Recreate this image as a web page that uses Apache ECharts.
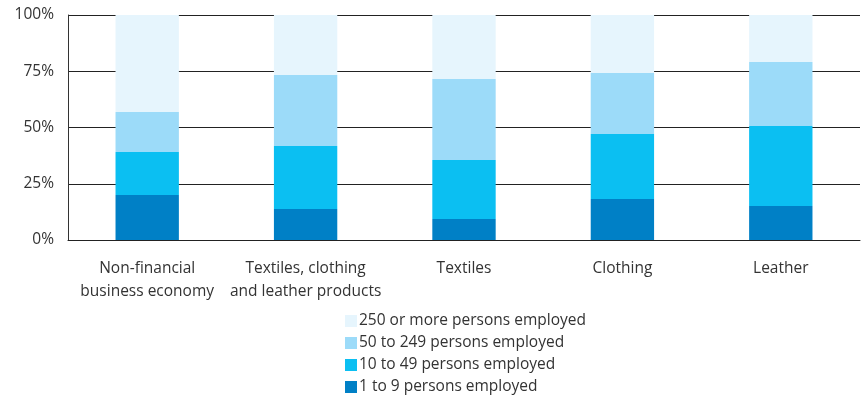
<!DOCTYPE html>
<html>
<head>
<meta charset="utf-8">
<script src="https://cdn.jsdelivr.net/npm/echarts@6/dist/echarts.min.js"></script>
<style>html,body{margin:0;padding:0;background:#fff;}#c{width:861px;height:396px;}</style>
</head>
<body>
<div id="c"></div>
<script>
var categories = ['Non-financial\nbusiness economy', 'Textiles, clothing\nand leather products', 'Textiles', 'Clothing', 'Leather'];
var seriesNames = ['1 to 9 persons employed', '10 to 49 persons employed', '50 to 249 persons employed', '250 or more persons employed'];
var s1to9 = [20.0, 13.8, 9.3, 18.2, 15.1];
var s10to49 = [19.1, 28.0, 26.3, 28.9, 35.6];
var s50to249 = [17.8, 31.5, 36.0, 27.1, 28.4];
var s250plus = [43.1, 26.7, 28.4, 25.8, 20.9];
var colors = ['#0080c6', '#0bbff2', '#9cdbf9', '#e6f5fd'];
var yTicks = [0, 25, 50, 75, 100];

var dataSets = [s1to9, s10to49, s50to249, s250plus];
var chart = echarts.init(document.getElementById('c'));
var font = 'Open Sans';
var fs = 15.5;
chart.setOption({
  animation: false,
  grid: {left: 68, right: 1, top: 15, bottom: 156},
  legend: {
    orient: 'vertical', left: 340, top: 308, height: 100, itemWidth: 12, itemHeight: 12, itemGap: 6,
    icon: 'rect',
    data: seriesNames.slice().reverse(),
    textStyle: {fontFamily: font, fontSize: fs, color: '#333', padding: [0,0,0,-3]}
  },
  xAxis: {
    type: 'category', data: categories,
    axisLine: {lineStyle: {color: '#222', width: 1}},
    axisTick: {show: false},
    axisLabel: {fontFamily: font, fontSize: fs, color: '#333', lineHeight: 23, margin: 17, interval: 0}
  },
  yAxis: {
    type: 'value', min: 0, max: 100, interval: 25,
    axisLine: {show: true, lineStyle: {color: '#333', width: 1}},
    axisTick: {show: false},
    splitLine: {lineStyle: {color: '#222', width: 1}},
    axisLabel: {fontFamily: font, fontSize: fs, color: '#333', margin: 14,
      formatter: function(v){ return yTicks.indexOf(v) >= 0 ? v + '%' : ''; }}
  },
  series: dataSets.map(function(d, i){
    return {name: seriesNames[i], type: 'bar', stack: 'a', data: d, barWidth: '40%',
      itemStyle: {color: colors[i]}};
  })
});
</script>
</body>
</html>
